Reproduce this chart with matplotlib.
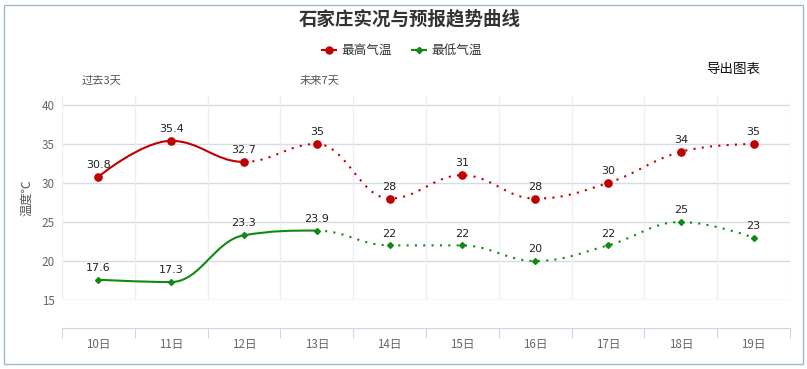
import matplotlib
matplotlib.use("Agg")
import matplotlib.pyplot as plt
from matplotlib.path import Path
from matplotlib.patches import PathPatch, Rectangle
from matplotlib.lines import Line2D

plt.rcParams['font.family'] = ['Noto Sans CJK SC', 'DejaVu Sans']

days = ['10日', '11日', '12日', '13日', '14日', '15日', '16日', '17日', '18日', '19日']
high = [30.8, 35.4, 32.7, 35, 28, 31, 28, 30, 34, 35]
low = [17.6, 17.3, 23.3, 23.9, 22, 22, 20, 22, 25, 23]
high_solid_until = 2
low_solid_until = 3
title = '石家庄实况与预报趋势曲线'
series_names = ['最高气温', '最低气温']
red = '#c00000'
green = '#108a10'

W, H = 807, 369
fig = plt.figure(figsize=(W / 100, H / 100), dpi=100)

def fx(px):
    return px / W

def fy(py):
    return 1 - py / H

# outer border
fig.patches.append(Rectangle((fx(4), fy(364)), fx(799), 359 / H, transform=fig.transFigure,
                             fill=False, edgecolor='#9bbad3', lw=1.0))

ax = fig.add_axes([fx(62), fy(300), fx(790) - fx(62), (300 - 96) / H])
ax.set_xlim(-0.5, len(days) - 0.5)
ax.set_ylim(15, 41.15)
for s in ax.spines.values():
    s.set_visible(False)
for yv in [15, 20, 25, 30, 35, 40]:
    ax.axhline(yv, color='#d6dbe5', lw=1, zorder=0)
for k in range(len(days) + 1):
    ax.axvline(k - 0.5, color='#eceff3', lw=1, zorder=0)
ax.set_xticks([])
ax.set_yticks([15, 20, 25, 30, 35, 40])
ax.set_yticklabels(['15', '20', '25', '30', '35', '40'], color='#666666', fontsize=8.4)
ax.tick_params(axis='y', length=0, pad=5)
ax.set_ylabel('温度℃', color='#555555', fontsize=8.8, labelpad=6)

# x axis (offset)
axx = fig.add_axes([fx(62), fy(328), fx(790) - fx(62), 0.0001])
axx.set_xlim(-0.5, len(days) - 0.5)
axx.set_ylim(0, 1)
for n, s in axx.spines.items():
    s.set_visible(n == 'bottom')
axx.spines['bottom'].set_color('#ccd6eb')
axx.set_yticks([])
axx.set_xticks([k - 0.5 for k in range(len(days) + 1)])
axx.set_xticklabels([])
axx.set_xticks(range(len(days)), minor=True)
axx.set_xticklabels(days, minor=True, color='#666666', fontsize=8.4)
axx.tick_params(axis='x', which='major', length=7, color='#ccd6eb', direction='out')
axx.tick_params(axis='x', which='minor', length=0, pad=7)


def spline_segments(xs, ys, smoothing=1.5):
    n = len(xs)
    ctrl = []
    for i in range(n):
        if i == 0 or i == n - 1:
            ctrl.append(((xs[i], ys[i]), (xs[i], ys[i])))
            continue
        px, py = xs[i], ys[i]
        lx, ly = xs[i - 1], ys[i - 1]
        nx, ny = xs[i + 1], ys[i + 1]
        d = smoothing + 1
        lcx = (smoothing * px + lx) / d
        lcy = (smoothing * py + ly) / d
        rcx = (smoothing * px + nx) / d
        rcy = (smoothing * py + ny) / d
        corr = ((rcy - lcy) * (rcx - px)) / (rcx - lcx) + py - rcy
        lcy += corr
        rcy += corr
        if lcy > ly and lcy > py:
            lcy = max(ly, py)
            rcy = 2 * py - lcy
        elif lcy < ly and lcy < py:
            lcy = min(ly, py)
            rcy = 2 * py - lcy
        if rcy > ny and rcy > py:
            rcy = max(ny, py)
            lcy = 2 * py - rcy
        elif rcy < ny and rcy < py:
            rcy = min(ny, py)
            lcy = 2 * py - rcy
        ctrl.append(((lcx, lcy), (rcx, rcy)))
    segs = []
    for i in range(n - 1):
        segs.append([(xs[i], ys[i]), ctrl[i][1], ctrl[i + 1][0], (xs[i + 1], ys[i + 1])])
    return segs


def draw_series(vals, solid_until, color, marker, ms):
    xs = list(range(len(vals)))
    segs = spline_segments(xs, vals)
    for part, style in [(segs[:solid_until], '-'), (segs[solid_until:], 'dot')]:
        if not part:
            continue
        verts = [part[0][0]]
        codes = [Path.MOVETO]
        for s in part:
            verts += s[1:]
            codes += [Path.CURVE4] * 3
        pp = PathPatch(Path(verts, codes), fill=False, edgecolor=color, lw=1.5, zorder=3,
                       capstyle='butt')
        if style == 'dot':
            pp.set_linestyle((0, (1, 3)))
        ax.add_patch(pp)
    ax.plot(xs, vals, ls='none', marker=marker, color=color, ms=ms, zorder=4, clip_on=False)
    for x, v in zip(xs, vals):
        ax.annotate(f'{v:g}', (x, v), xytext=(0, 8.5), textcoords='offset points',
                    ha='center', va='center', fontsize=8, color='#222222',
                    family=['DejaVu Sans'], zorder=5)


draw_series(high, high_solid_until, red, 'o', 5.2)
draw_series(low, low_solid_until, green, 'D', 3.0)

fig.text(fx(410), fy(19), title, ha='center', va='center', fontsize=13.3,
         fontweight='bold', color='#333333')

# legend
for (x0, name, color, mk, ms) in [(322, series_names[0], red, 'o', 5), (412, series_names[1], green, 'D', 3.2)]:
    fig.add_artist(Line2D([fx(x0), fx(x0 + 14)], [fy(50), fy(50)], color=color, lw=1.5,
                          transform=fig.transFigure))
    fig.add_artist(Line2D([fx(x0 + 7)], [fy(50)], color=color, marker=mk, ms=ms,
                          transform=fig.transFigure))
    fig.text(fx(x0 + 19), fy(50), name, ha='left', va='center', fontsize=9.1, color='#333333')

fig.text(fx(733), fy(69), '导出图表', ha='center', va='center', fontsize=9.7, color='#111111')
fig.text(fx(82), fy(81), '过去3天', ha='left', va='center', fontsize=8.1, color='#555555')
fig.text(fx(300), fy(81), '未来7天', ha='left', va='center', fontsize=8.1, color='#555555')

fig.savefig('out.png', dpi=100)
